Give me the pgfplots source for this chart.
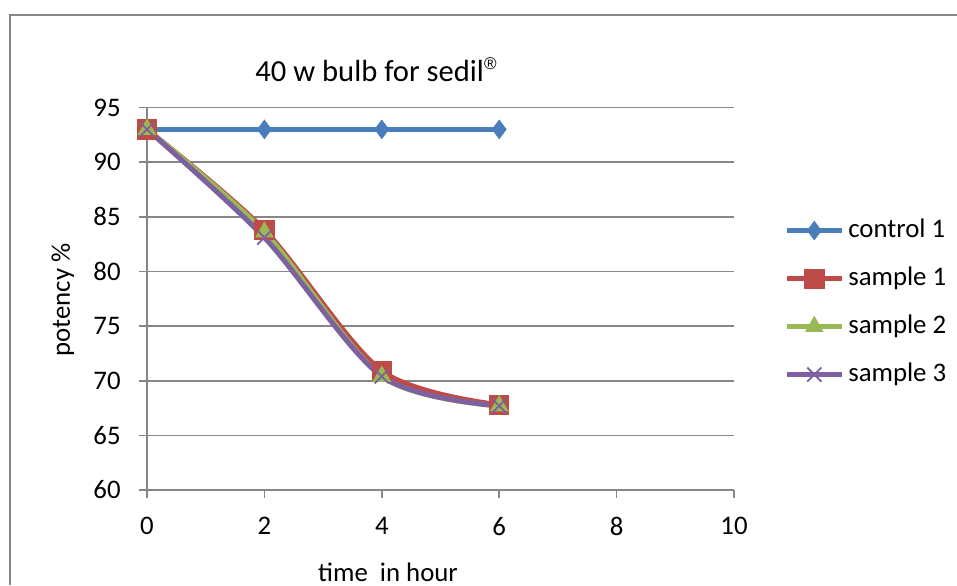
\documentclass[border=0pt]{standalone}
\usepackage{fontspec}
\setmainfont{Carlito}
\newfontfamily\regfont{Liberation Sans}
\usepackage{pgfplots}
\pgfplotsset{compat=1.18}
\definecolor{cblue}{HTML}{4A7EBB}
\definecolor{cred}{HTML}{BE4B48}
\definecolor{cgreen}{HTML}{98B954}
\definecolor{cpurple}{HTML}{7D60A0}
\definecolor{cgrid}{RGB}{134,134,134}
\newcommand{\lblfont}{\fontsize{13.4}{16}\selectfont}
\begin{document}
\begin{tikzpicture}[x=0.5pt,y=0.5pt]
\useasboundingbox (0,0) rectangle (957,585);
\draw[cgrid, line width=1pt] (10,0) -- (10,570) -- (957,570);
\node[anchor=base west, font=\fontsize{15.3}{18}\selectfont, inner sep=0pt] at (255,503) {40 w bulb for sedil\raisebox{0.42em}{\regfont\fontsize{8.5}{10}\selectfont ®}};
\begin{axis}[
  at={(73.5pt,47.5pt)}, anchor=south west,
  scale only axis, width=293.5pt, height=191.25pt,
  xmin=0, xmax=10, ymin=60, ymax=95,
  xtick={0,2,4,6,8,10}, ytick={60,65,70,75,80,85,90,95},
  axis x line*=bottom, axis y line*=left,
  axis line style={cgrid, line width=0.8pt, -},
  ymajorgrids, grid style={cgrid, line width=0.8pt},
  tick align=outside, major tick length=4pt,
  tick style={cgrid, line width=0.8pt},
  clip=false,
  font=\lblfont,
  ticklabel style={font=\lblfont},
  /pgf/number format/assume math mode=true,
  yticklabel style={anchor=east, inner sep=0pt, xshift=-9pt},
  xticklabel style={anchor=north, inner sep=0pt, yshift=-9.5pt},
  xlabel={time\ \ in hour}, ylabel={potency \%},
  xlabel style={font=\lblfont, at={(axis description cs:0.4106,-0.2144)}, anchor=center, inner sep=0pt},
  ylabel style={font=\lblfont, at={(axis description cs:-0.1431,0.4967)}, anchor=center, rotate=0, inner sep=0pt},
  legend style={at={(1.085,0.49)}, anchor=west, draw=none, fill=none, inner sep=0pt,
    row sep=11pt, column sep=0pt,
    nodes={inner sep=0pt, text height=10pt, text depth=3pt, anchor=west},
    font=\lblfont},
  legend cell align=left,
  legend image code/.code={\draw[mark repeat=2,mark phase=2] plot coordinates {(0pt,0pt) (13.75pt,0pt) (27.5pt,0pt)};\path (29.5pt,0pt);},
]
\addplot[cblue, line width=2.5pt, mark=diamond*, mark size=4.6pt, mark options={solid, fill=cblue, draw=cblue, line width=0.4pt}]
  coordinates {(0,93) (2,93) (4,93) (6,93)};
\addlegendentry{control 1}
\addplot[cred, line width=2.5pt, smooth, mark=square*, mark size=4.8pt, mark options={solid, fill=cred, draw=cred, line width=0.4pt}]
  coordinates {(0,93) (2,83.8) (4,70.9) (6,67.8)};
\addlegendentry{sample 1}
\addplot[cgreen, line width=2.5pt, smooth, mark=triangle*, mark size=5pt, mark options={solid, fill=cgreen, draw=cgreen, line width=0.4pt}]
  coordinates {(0,93) (2,83.6) (4,70.4) (6,67.7)};
\addlegendentry{sample 2}
\addplot[cpurple, line width=2.5pt, smooth, mark=x, mark size=5pt, mark options={solid, draw=cpurple, line width=0.9pt}]
  coordinates {(0,93) (2,83.1) (4,70.4) (6,67.7)};
\addlegendentry{sample 3}
\end{axis}
\end{tikzpicture}
\end{document}
